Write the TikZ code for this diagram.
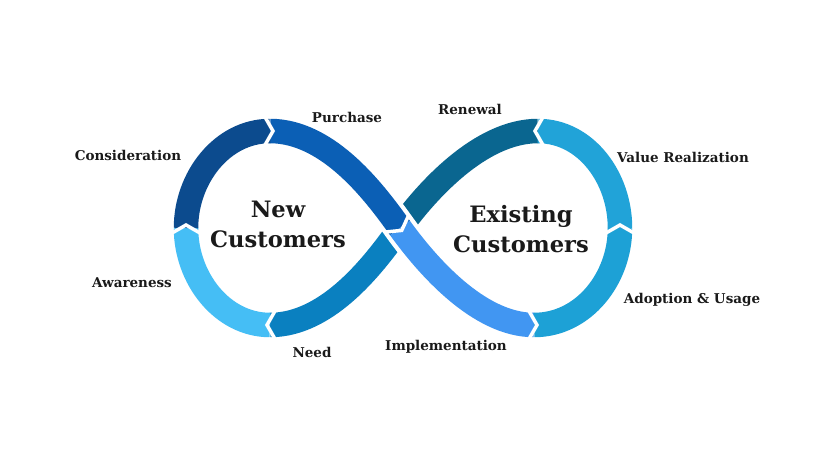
\documentclass[tikz,border=0pt]{standalone}
\usepackage{fontspec}
\setmainfont{DejaVu Serif}
\definecolor{cConsid}{HTML}{0C4B8E}
\definecolor{cPurch}{HTML}{0B5FB5}
\definecolor{cRenew}{HTML}{0A6690}
\definecolor{cValue}{HTML}{21A3D8}
\definecolor{cAdopt}{HTML}{1DA1D6}
\definecolor{cImpl}{HTML}{4196F2}
\definecolor{cNeed}{HTML}{0A80C0}
\definecolor{cAware}{HTML}{45BEF5}
\definecolor{cText}{HTML}{1A1A1A}
\tikzset{
  band/.style={line width=24.5pt, line cap=butt},
  halo/.style={draw=white, line width=33pt, line cap=butt},
  chev/.style={draw=white, line width=3.5pt, miter limit=10, line join=miter},
  lbl/.style={text=cText, font=\fontsize{13.5}{16}\selectfont\bfseries, inner sep=0pt},
  big/.style={text=cText, font=\fontsize{22.6}{30}\selectfont\bfseries, align=center, inner sep=0pt}
}
\begin{document}
\begin{tikzpicture}[x=1pt,y=-1pt]
\useasboundingbox[fill=white] (0,0) rectangle (815,458);
% key points of the centre line
\coordinate (C)  at (400,228);
\coordinate (BR) at (534,325);
\coordinate (R)  at (620,228);
\coordinate (TR) at (538,131);
\coordinate (BL) at (270,325);
\coordinate (L)  at (186,228);
\coordinate (TL) at (270,131);
% under strand
\draw[band, draw=cRenew] (TR) .. controls (480,131) and (426,192) .. (C);
\draw[band, draw=cNeed]  (C) .. controls (377,260) and (330,325) .. (BL);
% white halo of the over strand
\draw[halo] (TL) .. controls (330,131) and (377,196) .. (C)
                 .. controls (426,264) and (478,325) .. (BR);
% other segments
\draw[band, draw=cPurch] (TL) .. controls (330,131) and (377,196) .. (C);
\draw[band, draw=cImpl]  (C) .. controls (426,264) and (478,325) .. (BR);
\draw[band, draw=cAdopt] (BR) .. controls (584,325) and (620,278) .. (R);
\draw[band, draw=cValue] (R) .. controls (620,178) and (586,131) .. (TR);
\draw[band, draw=cAware] (BL) .. controls (222,325) and (186,278) .. (L);
\draw[band, draw=cConsid] (L) .. controls (186,178) and (222,131) .. (TL);
% chevrons at the boundaries
\draw[chev] (265,117) -- (273,131) -- (265,145);
\draw[chev] (172,233) -- (186,225) -- (200,233);
\draw[chev] (275,311) -- (267,325) -- (275,339);
\draw[chev] (529,311) -- (537,325) -- (529,339);
\draw[chev] (606,233) -- (620,225) -- (634,233);
\draw[chev] (543,117) -- (535,131) -- (543,145);
\draw[chev] (408.4,215.9) -- (401.7,230.4) -- (385.8,232.0);
% centre texts
\node[big] (new) at (278,224) {New\\Customers};
\node[big] (exist) at (521,229) {Existing\\Customers};
% labels
\node[lbl] (purchase) at (347,117) {Purchase};
\node[lbl] (consideration) at (128,155) {Consideration};
\node[lbl] (awareness) at (132,283) {Awareness};
\node[lbl] (need) at (312,352) {Need};
\node[lbl] (implementation) at (446,347) {Implementation};
\node[lbl] (adoption) at (692,300) {Adoption \& Usage};
\node[lbl] (value) at (683,157) {Value Realization};
\node[lbl] (renewal) at (470,109) {Renewal};
\end{tikzpicture}
\end{document}
